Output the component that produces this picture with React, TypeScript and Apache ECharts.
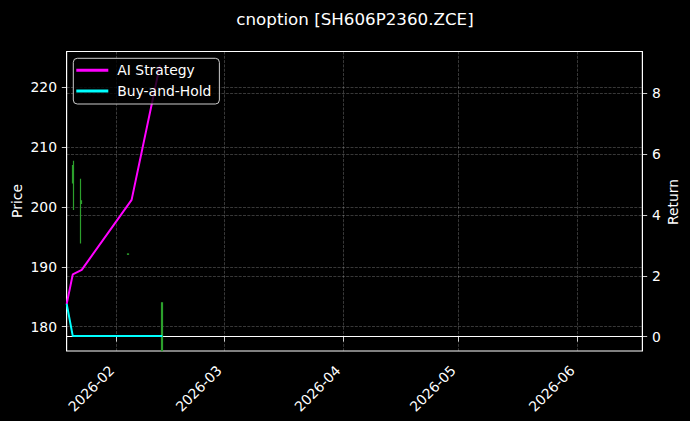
import { useEffect, useRef } from 'react'
import * as echarts from 'echarts'

const TITLE = 'cnoption [SH606P2360.ZCE]'

const STRATEGY_DATES = ['2026-01-19T00:00', '2026-01-20T14:00', '2026-01-22T22:00', '2026-02-04T22:00', '2026-02-12T07:00']
const STRATEGY_RETURNS = [1.08, 2.05, 2.2, 4.5, 8.93]

const HOLD_DATES = ['2026-01-19T00:00', '2026-01-20T14:00', '2026-02-12T22:00']
const HOLD_RETURNS = [1.08, 0.02, 0.02]

const CANDLE_DATES = ['2026-01-20T17:00', '2026-01-22T19:00', '2026-02-04T00:00', '2026-02-12T18:00']
// open, close, low, high
const CANDLE_OPEN = [204.0, 200.6, 192.1, 176.0]
const CANDLE_CLOSE = [206.9, 201.0, 192.15, 184.0]
const CANDLE_LOW = [199.5, 193.9, 192.1, 175.9]
const CANDLE_HIGH = [207.7, 204.7, 192.15, 184.0]

const X_TICKS = ['2026-02-01', '2026-03-01', '2026-04-01', '2026-05-01', '2026-06-01']
const X_RANGE = ['2026-01-19', '2026-06-18']
const PRICE_TICKS = [180, 190, 200, 210, 220]
const PRICE_RANGE = [175.95, 225.95]
const RETURN_TICKS = [0, 2, 4, 6, 8]
const RETURN_RANGE = [-0.47, 9.38]

const FONT = '"DejaVu Sans", sans-serif'
const GRID_LINE = { color: 'rgba(255,255,255,0.28)', width: 0.8, type: [3, 1.3] as number[] }

function ts(s: string): number {
  return Date.parse(s.length > 10 ? s + ':00Z' : s + 'T00:00:00Z')
}

function monthLabel(v: number): string {
  const d = new Date(v)
  return `${d.getUTCFullYear()}-${String(d.getUTCMonth() + 1).padStart(2, '0')}`
}

function buildOption(): echarts.EChartsOption {
  const tickStyle = { show: true, length: 4.9, lineStyle: { color: '#fff', width: 0.8 } }
  const labelStyle = { color: '#fff', fontSize: 13.9, fontFamily: FONT, margin: 9.7 }
  return {
    backgroundColor: '#000',
    animation: false,
    textStyle: { fontFamily: FONT },
    grid: { left: 66.7, right: 47.7, top: 51.5, bottom: 70, show: true, borderColor: '#fff', borderWidth: 1 },
    legend: {
      data: ['AI Strategy', 'Buy-and-Hold'],
      orient: 'vertical',
      left: 73.3,
      top: 58.3,
      icon: 'rect',
      itemWidth: 32,
      itemHeight: 3,
      itemGap: 6.7,
      padding: [5, 8, 6, 3],
      backgroundColor: 'rgba(0,0,0,0.8)',
      borderColor: '#cccccc',
      borderWidth: 1,
      borderRadius: 4,
      textStyle: { color: '#fff', fontSize: 13.9, fontFamily: FONT, padding: [0, 0, 0, 4] },
    },
    graphic: [
      {
        type: 'text', x: 355, y: 19,
        style: { text: TITLE, fill: '#fff', fontSize: 16.7, fontFamily: FONT, align: 'center', verticalAlign: 'middle' },
      },
      {
        type: 'text', x: 17, y: 201, rotation: Math.PI / 2,
        style: { text: 'Price', fill: '#fff', fontSize: 13.9, fontFamily: FONT, align: 'center', verticalAlign: 'middle' },
      },
      {
        type: 'text', x: 673, y: 202, rotation: Math.PI / 2,
        style: { text: 'Return', fill: '#fff', fontSize: 13.9, fontFamily: FONT, align: 'center', verticalAlign: 'middle' },
      },
    ],
    xAxis: {
      type: 'value',
      min: ts(X_RANGE[0]),
      max: ts(X_RANGE[1]),
      axisLine: { show: true, lineStyle: { color: '#fff', width: 1 } },
      axisTick: { ...tickStyle, customValues: X_TICKS.map(ts) },
      axisLabel: {
        ...labelStyle,
        margin: 12,
        padding: [0, 7, 0, 0],
        rotate: 45,
        customValues: X_TICKS.map(ts),
        formatter: (v: number) => monthLabel(v),
      },
      splitLine: { show: true, lineStyle: GRID_LINE },
    },
    yAxis: [
      {
        type: 'value',
        position: 'left',
        min: PRICE_RANGE[0],
        max: PRICE_RANGE[1],
        axisLine: { show: true, lineStyle: { color: '#fff', width: 1 } },
        axisTick: { ...tickStyle, customValues: PRICE_TICKS },
        axisLabel: { ...labelStyle, customValues: PRICE_TICKS },
        splitLine: { show: true, lineStyle: GRID_LINE },
      },
      {
        type: 'value',
        position: 'right',
        min: RETURN_RANGE[0],
        max: RETURN_RANGE[1],
        axisLine: { show: true, lineStyle: { color: '#fff', width: 1 } },
        axisTick: { ...tickStyle, customValues: RETURN_TICKS },
        axisLabel: { ...labelStyle, customValues: RETURN_TICKS },
        splitLine: { show: true, lineStyle: GRID_LINE },
      },
    ],
    series: [
      {
        type: 'candlestick',
        name: 'Price',
        xAxisIndex: 0,
        yAxisIndex: 0,
        barWidth: 1.5,
        encode: { x: 0, y: [1, 2, 3, 4] },
        data: CANDLE_DATES.map((d, i) => [ts(d), CANDLE_OPEN[i], CANDLE_CLOSE[i], CANDLE_LOW[i], CANDLE_HIGH[i]]),
        itemStyle: { color: '#2ca02c', color0: '#d62728', borderColor: '#2ca02c', borderColor0: '#d62728', borderWidth: 1.2 },
      },
      {
        type: 'line',
        name: 'AI Strategy',
        xAxisIndex: 0,
        yAxisIndex: 1,
        symbol: 'none',
        data: STRATEGY_DATES.map((d, i) => [ts(d), STRATEGY_RETURNS[i]]),
        lineStyle: { color: '#ff00ff', width: 2 },
        itemStyle: { color: '#ff00ff' },
      },
      {
        type: 'line',
        name: 'Buy-and-Hold',
        xAxisIndex: 0,
        yAxisIndex: 1,
        symbol: 'none',
        data: HOLD_DATES.map((d, i) => [ts(d), HOLD_RETURNS[i]]),
        lineStyle: { color: '#00ffff', width: 2 },
        itemStyle: { color: '#00ffff' },
      },
    ],
  }
}

export default function App() {
  const containerRef = useRef<HTMLDivElement>(null)

  useEffect(() => {
    const el = containerRef.current
    if (!el) return
    const chart = echarts.init(el, null, { renderer: 'svg' })
    chart.setOption(buildOption())
    return () => chart.dispose()
  }, [])

  return (
    <div
      ref={containerRef}
      style={{ position: 'fixed', left: 0, top: 0, width: 690, height: 421, background: '#000' }}
    />
  )
}
